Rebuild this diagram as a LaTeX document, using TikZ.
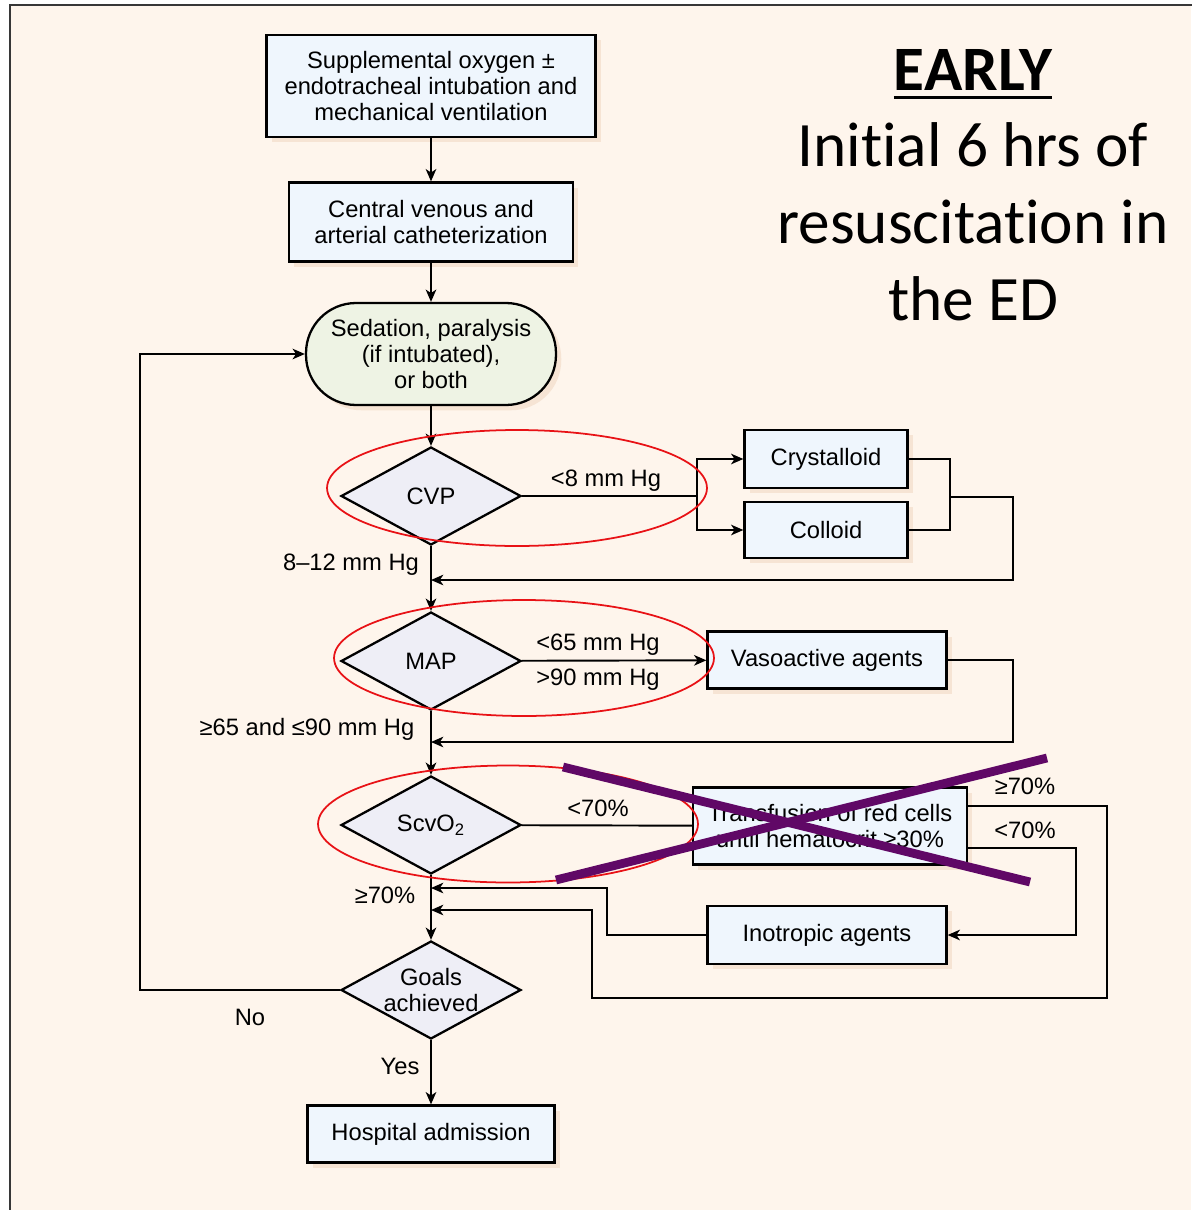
\documentclass[tikz,border=0pt]{standalone}
\usepackage{fontspec}
\newfontfamily\flowfont{Liberation Sans}
\newfontfamily\titlefont[Ligatures={NoCommon,NoContextual,NoRare},Contextuals=NoAlternate]{Carlito}
\usetikzlibrary{shapes.geometric,arrows.meta,shadows}
\definecolor{bgcream}{RGB}{254,245,236}
\definecolor{boxfill}{RGB}{239,246,253}
\definecolor{dmdfill}{RGB}{238,238,246}
\definecolor{sedfill}{RGB}{238,243,228}
\definecolor{shadowc}{RGB}{246,228,212}
\definecolor{ringred}{RGB}{232,18,22}
\definecolor{crossc}{RGB}{96,8,102}
\definecolor{framec}{RGB}{55,55,55}
\newcommand\thickul[1]{\setbox0\hbox{#1}\rlap{\rule[-5pt]{\wd0}{1.8pt}}\box0}
\begin{document}
\begin{tikzpicture}[x=0.02cm, y=-0.02cm, line width=1.1pt, >={Stealth[length=7pt,width=6pt,inset=2pt]},
  box/.style={rectangle,draw,line width=1.3pt,fill=boxfill,inner sep=2pt,align=center,font=\flowfont\fontsize{13.5}{15}\selectfont,drop shadow={shadow xshift=3pt,shadow yshift=-3pt,fill=shadowc,opacity=1}},
  sedbox/.style={box,fill=sedfill,rounded corners=1cm},
  decision/.style={diamond,draw,line width=1.3pt,fill=dmdfill,aspect=1.84,inner xsep=0pt,inner ysep=-4pt,minimum width=3.6cm,minimum height=1.96cm,align=center,font=\flowfont\fontsize{13.5}{15}\selectfont},
  lbl/.style={font=\flowfont\fontsize{13.5}{15}\selectfont,inner sep=1pt},
  ring/.style={draw=ringred,line width=1pt},
  strike/.style={draw=crossc,line width=5pt}]
\useasboundingbox (0,0) rectangle (1191,1210);
\fill[white] (0,0) rectangle (1191,1210);
\fill[bgcream] (10,5) rectangle (1191,1210);
\draw[framec,line width=1.6pt] (10,1215) -- (10,5) -- (1196,5);

% main column
\node[box,minimum width=6.58cm,minimum height=2.04cm] (sup) at (431,86) {Supplemental oxygen ±\\endotracheal intubation and\\mechanical ventilation};
\node[box,minimum width=5.68cm,minimum height=1.58cm] (cath) at (431,222) {Central venous and\\arterial catheterization};
\node[sedbox,minimum width=5cm,minimum height=2.04cm] (sed) at (431,354) {Sedation, paralysis\\(if intubated),\\or both};
\node[decision] (cvp) at (431,496) {CVP};
\node[decision] (map) at (431,661) {MAP};
\node[decision] (scv) at (431,825) {ScvO\textsubscript{2}};
\node[decision] (goal) at (431,990) {Goals\\achieved};
\node[box,minimum width=4.94cm,minimum height=1.14cm] (adm) at (431,1134) {Hospital admission};

% side boxes
\node[box,minimum width=3.26cm,minimum height=1.16cm] (crys) at (826,459) {Crystalloid};
\node[box,minimum width=3.26cm,minimum height=1.12cm] (coll) at (826,530) {Colloid};
\node[box,minimum width=4.78cm,minimum height=1.14cm] (vaso) at (827,660) {Vasoactive agents};
\node[box,minimum width=5.48cm,minimum height=1.54cm] (trans) at (830,826) {Transfusion of red cells\\until hematocrit ≥30\%};
\node[box,minimum width=4.78cm,minimum height=1.16cm] (ino) at (827,935) {Inotropic agents};

% title
\node[font=\titlefont\fontsize{36}{43.7}\selectfont,align=center] (title) at (973,185) {\textbf{\thickul{EARLY}}\\Init\kern0pt ial 6 hrs of\\resuscitat\kern0pt ion in\\the ED};

% labels
\node[lbl] (l1) at (606,481) {<8 mm Hg};
\node[lbl] (l2) at (351,565) {8–12 mm Hg};
\node[lbl] (l3) at (598,645) {<65 mm Hg};
\node[lbl] (l4) at (598,680) {>90 mm Hg};
\node[lbl] (l5) at (307,729) {≥65 and ≤90 mm Hg};
\node[lbl] (l6) at (598,808) {<70\%};
\node[lbl] (l7) at (1025,786) {≥70\%};
\node[lbl] (l8) at (1025,830) {<70\%};
\node[lbl] (l9) at (385,895) {≥70\%};
\node[lbl] (l10) at (250,1017) {No};
\node[lbl] (l11) at (400,1066) {Yes};

% junction points
\coordinate (b1) at (697,496);
\coordinate (j1) at (950,497);
\coordinate (r1) at (1013,497);
\coordinate (m1) at (431,580);
\coordinate (r2) at (1013,742);
\coordinate (m2) at (431,742);
\coordinate (t1) at (1107,806);
\coordinate (t2) at (592,998);
\coordinate (m3) at (431,910);
\coordinate (t3) at (1076,848);
\coordinate (t4) at (607,888);
\coordinate (m4) at (431,888);
\coordinate (w1) at (140,990);

\draw[->] (sup) -- (cath);
\draw[->] (cath) -- (sed);
\draw[->] (sed) -- (cvp);
\draw (cvp) -- (b1);
\draw[->] (b1) |- (crys);
\draw[->] (b1) |- (coll);
\draw (crys) -| (j1);
\draw (coll) -| (j1);
\draw[->] (j1) -- (r1) |- (m1);
\draw[->] (cvp) -- (map);
\draw[->] (map) -- (vaso);
\draw[->] (vaso) -| (r2) -- (m2);
\draw[->] (map) -- (scv);
\draw (scv) -- (trans);
\draw[->] (trans.east |- t1) -- (t1) |- (t2) |- (m3);
\draw[->] (trans.east |- t3) -- (t3) |- (ino);
\draw[->] (ino) -| (t4) -- (m4);
\draw[->] (scv) -- (goal);
\draw[->] (goal) -- (adm);
\draw[->] (goal.west) -- (w1) |- (sed);

% red rings and cross
\draw[ring] (517,488) ellipse [x radius=3.8cm, y radius=1.16cm];
\draw[ring] (524,658) ellipse [x radius=3.8cm, y radius=1.16cm];
\draw[ring] (508,824) ellipse [x radius=3.8cm, y radius=1.17cm];
\draw[strike] (563,767) -- (1030,882);
\draw[strike] (556,880) -- (1047,758);
\end{tikzpicture}
\end{document}
